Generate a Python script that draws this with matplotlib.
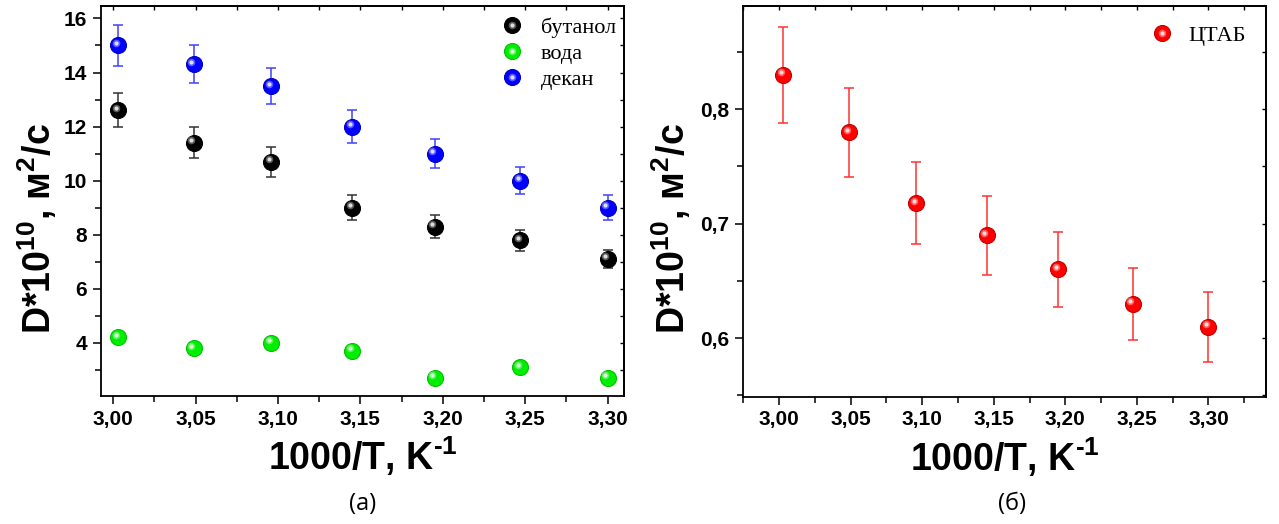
import matplotlib
matplotlib.use("Agg")
import matplotlib.pyplot as plt
from matplotlib.ticker import MultipleLocator, FuncFormatter
from matplotlib.transforms import offset_copy
from matplotlib.legend_handler import HandlerTuple

plt.rcParams['font.family'] = ['Liberation Sans', 'DejaVu Sans']
plt.rcParams['font.weight'] = 'bold'
plt.rcParams['mathtext.fontset'] = 'custom'
plt.rcParams['mathtext.rm'] = 'Liberation Sans:bold'
plt.rcParams['mathtext.it'] = 'Liberation Sans:bold'
plt.rcParams['mathtext.bf'] = 'Liberation Sans:bold'
plt.rcParams['mathtext.default'] = 'rm'

# data
inv_T = [3.003, 3.049, 3.096, 3.145, 3.195, 3.247, 3.300]  # 1000/T, K^-1
butanol = [12.6, 11.4, 10.7, 9.0, 8.3, 7.8, 7.1]
butanol_err = [0.63, 0.58, 0.55, 0.45, 0.41, 0.39, 0.35]
water = [4.2, 3.8, 4.0, 3.7, 2.7, 3.1, 2.7]
decane = [15.0, 14.3, 13.5, 12.0, 11.0, 10.0, 9.0]
decane_err = [0.75, 0.70, 0.68, 0.60, 0.55, 0.50, 0.45]
ctab = [0.830, 0.780, 0.718, 0.690, 0.660, 0.630, 0.610]
ctab_err = [0.042, 0.039, 0.036, 0.0345, 0.033, 0.0315, 0.0305]

fig = plt.figure(figsize=(12.79, 5.24), dpi=100)
ax1 = fig.add_axes([0.0787, 0.2443, 0.4094, 0.7442])
ax2 = fig.add_axes([0.5812, 0.2433, 0.4088, 0.7458])

comma = FuncFormatter(lambda v, p: f"{v:.2f}".replace('.', ','))


def sphere(ax, x, y, color, edge, label):
    # coloured ball with a soft light highlight to mimic the shaded markers
    m, = ax.plot(x, y, 'o', ms=11.5, color=color, mec=edge, mew=0.8,
                 ls='none', zorder=3, label=label)
    hl_tr = offset_copy(ax.transData, fig=fig, x=-2.5, y=2.5, units='dots')
    h1, = ax.plot(x, y, 'o', ms=5.5, color='white', mec='none', alpha=0.35,
                  ls='none', zorder=4, transform=hl_tr)
    h2, = ax.plot(x, y, 'o', ms=3, color='white', mec='none', alpha=0.8,
                  ls='none', zorder=5, transform=hl_tr)
    return (m, h1, h2)


def style(ax):
    for s in ax.spines.values():
        s.set_linewidth(1.3)
        s.set_zorder(6)
    ax.tick_params(which='both', direction='out', width=1.1, labelsize=15,
                   top=False, right=False, pad=4)
    ax.tick_params(which='major', length=6)
    ax.tick_params(which='minor', length=4)
    sec_x = ax.secondary_xaxis('top')
    sec_y = ax.secondary_yaxis('right')
    for sec in (sec_x, sec_y):
        sec.tick_params(which='both', direction='in', length=3, width=1.0)
        for s in sec.spines.values():
            s.set_linewidth(1.3)
    sec_x.xaxis.set_major_locator(MultipleLocator(0.05))
    sec_x.xaxis.set_minor_locator(MultipleLocator(0.025))
    sec_x.xaxis.set_major_formatter(FuncFormatter(lambda v, p: ''))
    sec_y.yaxis.set_major_formatter(FuncFormatter(lambda v, p: ''))
    ax.xaxis.set_major_locator(MultipleLocator(0.05))
    ax.xaxis.set_minor_locator(MultipleLocator(0.025))
    ax.xaxis.set_major_formatter(comma)
    ax.set_xlabel("1000/T, K$^{\\text{-1}}$", fontsize=27, fontweight='bold',
                  labelpad=4)
    ax.set_ylabel("D*10$^{10}$, м$^2$/с", fontsize=27, fontweight='bold')
    return sec_y


# (a) butanol, water, decane
ax1.errorbar(inv_T, butanol, yerr=butanol_err, fmt='none', ecolor='#333333',
             elinewidth=1.1, capsize=3.5, capthick=1.1, zorder=2)
ax1.errorbar(inv_T, decane, yerr=decane_err, fmt='none', ecolor='#4040ff',
             elinewidth=1.1, capsize=3.5, capthick=1.1, zorder=2)
hb = sphere(ax1, inv_T, butanol, 'black', 'black', 'бутанол')
hw = sphere(ax1, inv_T, water, '#00ee00', '#00c000', 'вода')
hd = sphere(ax1, inv_T, decane, '#0000ff', '#0000c0', 'декан')
ax1.set_xlim(2.9924, 3.3101)
ax1.set_ylim(2.03, 16.46)
sy1 = style(ax1)
ax1.yaxis.set_major_locator(MultipleLocator(2))
ax1.yaxis.set_minor_locator(MultipleLocator(1))
sy1.yaxis.set_major_locator(MultipleLocator(2))
sy1.yaxis.set_minor_locator(MultipleLocator(1))
ax1.yaxis.set_label_coords(-0.08, 0.43)
ax1.legend([hb, hw, hd], ['бутанол', 'вода', 'декан'],
           handler_map={tuple: HandlerTuple(ndivide=1)},
           loc='upper right', bbox_to_anchor=(1.01, 1.005), frameon=False,
           handlelength=1.2, handletextpad=0.7, labelspacing=0.25,
           borderaxespad=0.2,
           prop={'family': 'Liberation Serif', 'size': 16, 'weight': 'normal'})

# (б) CTAB
ax2.errorbar(inv_T, ctab, yerr=ctab_err, fmt='none', ecolor='#ff3030',
             elinewidth=1.1, capsize=3.5, capthick=1.1, zorder=2)
hc = sphere(ax2, inv_T, ctab, '#ff0000', '#c00000', 'ЦТАБ')
ax2.set_xlim(2.975, 3.3404)
ax2.set_ylim(0.549, 0.8905)
sy2 = style(ax2)
ax2.yaxis.set_major_locator(MultipleLocator(0.1))
ax2.yaxis.set_minor_locator(MultipleLocator(0.05))
ax2.yaxis.set_major_formatter(FuncFormatter(lambda v, p: f"{v:.1f}".replace('.', ',')))
sy2.yaxis.set_major_locator(MultipleLocator(0.1))
sy2.yaxis.set_minor_locator(MultipleLocator(0.05))
ax2.yaxis.set_label_coords(-0.097, 0.43)
ax2.legend([hc], ['ЦТАБ'], handler_map={tuple: HandlerTuple(ndivide=1)},
           loc='upper right', frameon=False, handlelength=1.2,
           handletextpad=0.6, borderaxespad=0.5,
           prop={'family': 'Liberation Serif', 'size': 16, 'weight': 'normal'})

fig.text(0.2838, 0.038, "(а)", ha='center', va='center', fontsize=17,
         fontweight='normal', family='Open Sans')
fig.text(0.7912, 0.038, "(б)", ha='center', va='center', fontsize=17,
         fontweight='normal', family='Open Sans')

fig.savefig("out.png", dpi=100)
